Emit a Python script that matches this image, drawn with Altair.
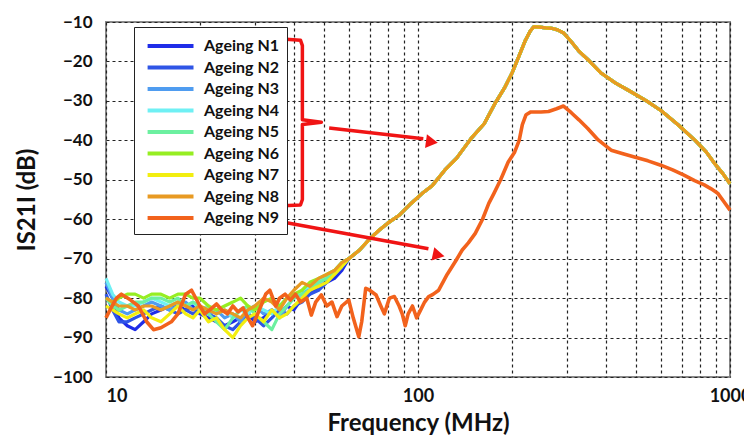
import altair as alt
import pandas as pd

series = [f"Ageing N{i}" for i in range(1, 10)]
colors = ["#1f2de8", "#2f55e6", "#4f9cf0", "#6ff0f4", "#6cf0a0", "#96ee22", "#f2ee10", "#e89a22", "#f2621c"]

# shared low-frequency grid for N1..N8
low_f = [10, 10.5, 11, 11.7, 12.4, 13.2, 14, 15, 16, 17, 18, 19, 20, 21.3, 22.6, 24, 25.5, 27,
         28.5, 30, 32, 34, 36, 38, 40, 42.5, 45, 48, 51, 54, 57]
low_db = {
    "Ageing N1": [-77, -80, -85, -87, -88, -86, -84, -83, -82, -82, -83, -82, -84, -85, -86, -87, -86, -85, -84, -86, -85, -83, -84, -82, -83, -80, -79, -77, -76, -75, -73],
    "Ageing N2": [-79, -83, -86, -86, -85, -84, -83, -82, -83, -84, -83, -84, -83, -84, -85, -87, -88, -86, -84, -85, -87, -85, -83, -84, -82, -81, -79, -78, -76, -74, -72],
    "Ageing N3": [-76, -80, -83, -84, -83, -82, -81, -82, -83, -82, -81, -83, -82, -84, -83, -85, -84, -86, -83, -82, -84, -83, -85, -82, -80, -79, -77, -76, -75, -74, -72],
    "Ageing N4": [-75, -79, -81, -82, -82, -81, -80, -81, -82, -81, -82, -81, -83, -82, -84, -83, -85, -83, -84, -82, -83, -84, -82, -80, -80, -78, -77, -76, -74, -73, -71],
    "Ageing N5": [-80, -82, -83, -82, -81, -81, -80, -80, -81, -80, -82, -81, -82, -84, -86, -88, -85, -83, -82, -84, -86, -88, -84, -82, -80, -79, -78, -76, -75, -73, -71],
    "Ageing N6": [-80, -81, -80, -79, -79, -80, -79, -79, -80, -79, -79, -80, -80, -82, -83, -82, -81, -80, -82, -83, -81, -80, -82, -80, -79, -78, -76, -75, -74, -73, -71],
    "Ageing N7": [-82, -83, -84, -85, -84, -83, -85, -86, -84, -82, -84, -85, -83, -86, -85, -88, -90, -87, -85, -84, -86, -83, -85, -84, -82, -80, -78, -77, -76, -74, -72],
    "Ageing N8": [-80, -81, -82, -82, -83, -82, -82, -83, -82, -81, -82, -83, -82, -83, -84, -83, -84, -85, -83, -82, -80, -81, -83, -80, -78, -76, -77, -75, -74, -73, -71],
}

# common response of N1..N8 above ~60 MHz
tail_f = [60, 65, 70, 75, 80, 87, 95, 103, 111, 122, 133, 148, 163, 177, 190, 200, 211, 221, 229,
          235, 245, 257, 268, 280, 293, 310, 327, 350, 387, 430, 472, 540, 602, 680, 773, 840, 895, 950, 1000]
tail_db = [-70, -67.8, -65, -62.8, -61, -59, -56, -53.5, -51.5, -47.5, -44.5, -39.5, -35.8, -30.5, -26.5,
           -23, -18.5, -14.6, -12.3, -11.2, -11.3, -11.5, -11.6, -12, -12.8, -15, -17.3, -19.5, -23, -25.5,
           -27.3, -30, -32.5, -36, -40, -43, -46, -48.5, -51]

# Ageing N9
n9_f = [10, 10.3, 10.8, 11.2, 12, 12.7, 13.5, 14.2, 15, 16.2, 17, 18, 18.8, 20, 20.7, 21.5, 22.6, 23.5,
        24.5, 25.5, 26.5, 27.5, 28.5, 29.5, 31, 32.5, 33.5, 35, 36, 37.5, 39, 40.5, 42, 44, 45.5, 47, 49,
        51, 53, 55, 57, 60, 62, 64.6, 66, 68, 70, 73.4, 76, 78, 81, 84, 87, 89, 91, 93, 96, 99, 102, 105,
        108, 112, 116.5, 124, 132.5, 138.6, 145, 152.6, 161, 168.6, 175, 184, 194.6, 204, 211, 216, 222,
        230, 248, 262, 278, 292.7, 310, 328, 350, 378, 416, 454, 494, 546, 600, 655, 712, 770, 827, 870,
        913, 955, 1000]
n9_db = [-85, -83, -80, -79, -80.5, -82, -86, -88, -87.5, -86, -84, -79, -78, -82, -84, -83, -81.5, -83,
         -84, -82, -83.5, -82.5, -85, -87, -83, -79, -78, -82, -80, -79, -80.5, -79, -81, -80, -84.3, -81,
         -79.2, -82, -81, -84.7, -82, -80.5, -85, -89.8, -86, -77.5, -78, -79.2, -82, -84, -80, -79.6, -82,
         -84, -87, -84, -82, -85, -83, -81, -79.7, -79, -78, -74, -70.4, -67.8, -66, -63.6, -60, -56,
         -53.5, -50, -45.5, -43, -40, -36, -33.5, -32.8, -32.8, -32.7, -32, -31.3, -33, -34.8, -37, -39.9,
         -42.5, -43.4, -44.2, -45.2, -46.3, -47.5, -48.8, -50.2, -51.3, -52.3, -53.4, -55.5, -57.7]

# annotation (red bracket and arrows), in data units
bracket_f = [36.8, 42.0, 42.6, 42.6, 49.0, 42.6, 42.6, 42.0, 36.8]
bracket_db = [-14.3, -14.6, -16.0, -34.8, -35.4, -36.0, -55.0, -56.4, -56.6]
arrow_id = ["a1", "a1", "a2", "a2"]
arrow_f = [51.9, 104.0, 36.8, 108.0]
arrow_db = [-36.9, -39.6, -60.7, -67.5]
head_f = [110.8, 116.5]
head_db = [-40.4, -69.1]
head_angle = [8, 12]

rows = []
for s in series[:8]:
    for f, d in zip(low_f, low_db[s]):
        rows.append({"series": s, "freq": f, "db": d})
    for f, d in zip(tail_f, tail_db):
        rows.append({"series": s, "freq": f, "db": d})
for f, d in zip(n9_f, n9_db):
    rows.append({"series": "Ageing N9", "freq": f, "db": d})
df = pd.DataFrame(rows)

FONT = "Lato"
grid_vals = [10, 20, 30, 40, 50, 60, 70, 80, 90, 100, 200, 300, 400, 500, 600, 700, 800, 900, 1000]

xscale = alt.Scale(type="log", domain=[10, 1000], nice=False)
yscale = alt.Scale(domain=[-100, -10], nice=False)

xaxis = alt.Axis(values=grid_vals, format="d",
                 labelExpr="indexof([10,100,1000], datum.value) >= 0 ? datum.label : ''",
                 labelAlign={"condition": {"test": "datum.value <= 10", "value": "left"}, "value": "center"},
                 labelFlush=False, labelOverlap=False, ticks=False, domain=False,
                 labelFont=FONT, labelFontSize=18, labelFontWeight="bold", labelColor="#111",
                 labelPadding=10, title="Frequency (MHz)", titleFont=FONT, titleFontSize=24,
                 titleFontWeight="bold", titleColor="#111", titleBaseline="alphabetic", titleY=53,
                 grid=True, gridDash=[3, 3], gridColor="#222", gridWidth=1.2)
yaxis = alt.Axis(values=list(range(-100, 0, 10)), ticks=False, domain=False,
                 labelOverlap=False, labelFlush=False, labelBound=False,
                 labelFont=FONT, labelFontSize=17, labelFontWeight="bold", labelColor="#111",
                 labelPadding=14, title="IS21I (dB)", titleFont=FONT, titleFontSize=24,
                 titleFontWeight="bold", titleColor="#111", titlePadding=13,
                 grid=True, gridDash=[3, 3], gridColor="#222", gridWidth=1.2)

X = lambda f: alt.X(f, scale=xscale, axis=xaxis)
Y = lambda f: alt.Y(f, scale=yscale, axis=yaxis)

lines = alt.Chart(df).mark_line(strokeJoin="round").encode(
    x=X("freq:Q"),
    y=Y("db:Q"),
    color=alt.Color("series:N", scale=alt.Scale(domain=series, range=colors),
                    legend=alt.Legend(orient="none", legendX=28, legendY=5, title=None,
                                      symbolType="M-0.6,0H4.5", symbolSize=324, symbolStrokeWidth=4,
                                      labelFont=FONT, labelFontSize=16, labelFontWeight="bold",
                                      labelColor="#111", labelOffset=40, rowPadding=2.5,
                                      strokeColor="#222", fillColor="white", padding=8)),
    strokeWidth=alt.condition(alt.datum.series == "Ageing N9", alt.value(3.6), alt.value(3.2)),
)

bracket = alt.Chart(pd.DataFrame({"f": bracket_f, "d": bracket_db, "o": list(range(len(bracket_f)))})).mark_line(
    color="#f01414", strokeWidth=3.5, strokeJoin="round").encode(
    x=X("f:Q"), y=Y("d:Q"), order="o:Q")

arrows = alt.Chart(pd.DataFrame({"id": arrow_id, "f": arrow_f, "d": arrow_db})).mark_line(
    color="#f01414", strokeWidth=3.5).encode(
    x=X("f:Q"), y=Y("d:Q"), detail="id:N")

heads = alt.Chart(pd.DataFrame({"f": head_f, "d": head_db, "a": head_angle})).mark_point(
    shape="triangle-right", filled=True, color="#f01414", size=190, opacity=1).encode(
    x=X("f:Q"), y=Y("d:Q"), angle=alt.Angle("a:Q", scale=None))

chart = alt.layer(lines, bracket, arrows, heads).properties(
    width=624, height=355, background="white",
    autosize=alt.AutoSizeParams(type="none"),
    padding={"left": 98, "right": 14, "top": 14, "bottom": 58}
).configure_view(stroke="#8a8a8a", strokeWidth=2).configure_axis(labelOverlap=False)

chart.save("out.html", embed_options={"renderer": "svg", "actions": False})
